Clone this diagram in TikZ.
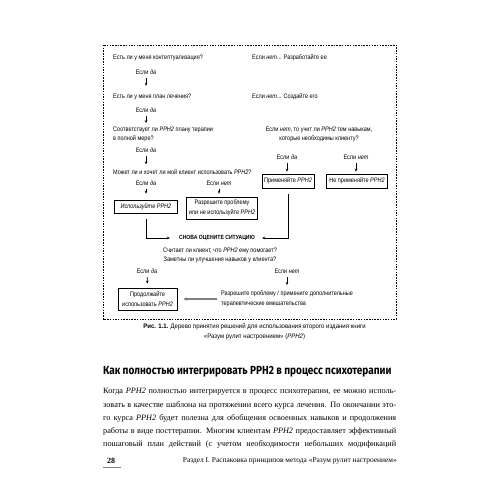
\documentclass[tikz,border=0pt]{standalone}
\usepackage{fontspec}
\setmainfont{Liberation Serif}
\newfontfamily\chartfont[FakeStretch=0.85]{Liberation Sans}
\newfontfamily\capfont[FakeStretch=0.93]{Liberation Sans}
\newfontfamily\headfont[FakeStretch=0.85]{Fira Sans}
\usetikzlibrary{arrows.meta,positioning}
\newcommand{\fullline}[1]{\hbox to 293bp{#1}}
\begin{document}
\begin{tikzpicture}[x=1bp, y=-1bp,
                vopr/.style={font=\chartfont\fontsize{6.5bp}{9.5bp}\selectfont, inner sep=0pt, anchor=west, align=left},
                esli/.style={font=\chartfont\fontsize{6.5bp}{9.5bp}\selectfont, inner sep=0pt},
                blok/.style={draw=black, line width=0.6bp, inner sep=1bp, align=center,
                    font=\chartfont\fontsize{6.5bp}{9.5bp}\selectfont},
                strelka/.style={-{Stealth[length=3bp,width=2.6bp]}, line width=0.7bp, shorten <=3.5bp, shorten >=8bp},
                liniya/.style={-{Stealth[length=3bp,width=2.6bp]}, line width=0.7bp},
            ]
            \useasboundingbox (0,0) rectangle (500,500);
            \fill[white] (0,0) rectangle (500,500);
            % ramka
            \draw[dash pattern=on 1.5bp off 1.2bp, line width=0.6bp] (103,45) rectangle (396,319);
            % voprosy
            \node[vopr] (q1) at (113,58) {Есть ли у меня контептуализация?};
            \node[vopr] (n1) at (252,58) {Если \textit{нет}... Разработайте ее};
            \node[esli] (d1) at (146,72) {Если \textit{да}};
            \node[vopr] (q2) at (113,97) {Есть ли у меня план лечения?};
            \node[vopr] (n2) at (252,97) {Если \textit{нет}... Создайте его};
            \node[esli] (d2) at (146,110) {Если \textit{да}};
            \node[vopr] (q3) at (113,134.5) {Соответствует ли \textit{РРН2} плану терапии\\в полной мере?};
            \node[esli, align=center] (n3) at (319,134.5) {Если \textit{нет}, то учит ли \textit{РРН2} тем навыкам,\\которые необходимы клиенту?};
            \node[esli] (d3) at (146,150) {Если \textit{да}};
            \node[vopr] (q4) at (113,172) {Может ли и хочет ли мой клиент использовать \textit{РРН2}?};
            \node[esli] (d4) at (146,183) {Если \textit{да}};
            \node[esli] (t4) at (219,183) {Если \textit{нет}};
            \node[esli] (d5) at (287,157) {Если \textit{да}};
            \node[esli] (t5) at (356,157) {Если \textit{нет}};
            % bloki
            \node[blok, minimum width=63bp, minimum height=13bp] (b1) at (146,207) {\textit{Используйте РРН2}};
            \node[blok, minimum width=71bp, minimum height=22bp] (b2) at (222,208) {Разрешите проблему\\или не используйте \textit{РРН2}};
            \node[blok, minimum width=52bp, minimum height=14bp] (b3) at (288,181) {Применяйте \textit{РРН2}};
            \node[blok, minimum width=61bp, minimum height=14bp] (b4) at (357,181) {Не применяйте \textit{РРН2}};
            \node[esli, font=\chartfont\bfseries\fontsize{6bp}{9bp}\selectfont] (snova) at (217,238) {СНОВА ОЦЕНИТЕ СИТУАЦИЮ};
            \node[esli, align=center] (q5) at (220,255.5) {Считает ли клиент, что \textit{РРН2} ему помогает?\\Заметны ли улучшения навыков у клиента?};
            \node[esli] (d6) at (147,271) {Если \textit{да}};
            \node[esli] (t6) at (287,271) {Если \textit{нет}};
            \node[blok, minimum width=59bp, minimum height=22bp] (b5) at (147.5,299) {Продолжайте\\использовать \textit{РРН2}};
            \node[vopr] (r6) at (221,299) {Разрешите проблему / примените дополнительные\\терапевтические вмешательства};
            % strelki
            \draw[strelka] (d1.south) -- (d1 |- q2.north);
            \draw[strelka, shorten >=3.5bp] (d2.south) -- (d2 |- q3.north);
            \draw[strelka, shorten >=5bp] (d3.south) -- (d3 |- q4.north);
            \draw[strelka, shorten >=3bp] (d4.south) -- (d4 |- b2.north);
            \draw[strelka, shorten >=3bp] (t4.south) -- (t4 |- b2.north);
            \draw[strelka, shorten >=2bp] (d5.south) -- (d5 |- b3.north);
            \draw[strelka, shorten >=2bp] (t5.south) -- (t5 |- b4.north);
            \draw[liniya, shorten <=5bp, shorten >=9bp] (b1.south) |- (snova.west);
            \draw[liniya, shorten <=6bp, shorten >=7bp] (b3.south) |- (snova.east);
            \draw[strelka, shorten >=4bp] (d6.south) -- (b5.north);
            \draw[strelka, shorten >=6bp] (t6.south) -- (t6 |- r6.north);
            \draw[-{Stealth[length=3.5bp,width=3.5bp]}, draw=gray, fill=gray, line width=1.4bp, shorten <=4bp, shorten >=6bp] (r6.west) -- (b5.east);
            % podpis
            \node[inner sep=0pt, align=center, font=\capfont\fontsize{6.5bp}{10bp}\selectfont] (podpis) at (254.5,332)
                {\textbf{Рис. 1.1.} Дерево принятия решений для использования второго издания книги\\«Разум рулит настроением» (\textit{РРН2})};
            % tekst
            \node[inner sep=0pt, anchor=west, font=\headfont\bfseries\fontsize{11.8bp}{13bp}\selectfont] (zagolovok) at (103,372)
                {Как полностью интегрировать РРН2 в процесс психотерапии};
            \node[inner sep=0pt, anchor=west, font=\fontsize{8.2bp}{10bp}\selectfont] (s1) at (103,392)
                {\fullline{Когда \textit{РРН2} полностью интегрируется в процесс психотерапии, ее можно исполь-}};
            \node[inner sep=0pt, anchor=west, font=\fontsize{8.2bp}{10bp}\selectfont] (s2) at (103,405)
                {\fullline{зовать в качестве шаблона на протяжении всего курса лечения. По окончании это-}};
            \node[inner sep=0pt, anchor=west, font=\fontsize{8.2bp}{10bp}\selectfont] (s3) at (103,418)
                {\fullline{го курса \textit{РРН2} будет полезна для обобщения освоенных навыков и продолжения}};
            \node[inner sep=0pt, anchor=west, font=\fontsize{8.2bp}{10bp}\selectfont] (s4) at (103,431)
                {\fullline{работы в виде посттерапии. Многим клиентам \textit{РРН2} предоставляет эффективный}};
            \node[inner sep=0pt, anchor=west, font=\fontsize{8.2bp}{10bp}\selectfont] (s5) at (103,444)
                {\fullline{пошаговый план действий (с учетом необходимости небольших модификаций}};
            % kolontitul
            \node[inner sep=0pt, font=\bfseries\fontsize{8bp}{10bp}\selectfont] (stranica) at (111,461) {28};
            \draw[gray, line width=0.5bp] (103,467) -- (121,467);
            \node[inner sep=0pt, anchor=east, font=\fontsize{7.4bp}{9bp}\selectfont] (razdel) at (397,461)
                {Раздел I. Распаковка принципов метода «Разум рулит настроением»};
        \end{tikzpicture}
\end{document}
